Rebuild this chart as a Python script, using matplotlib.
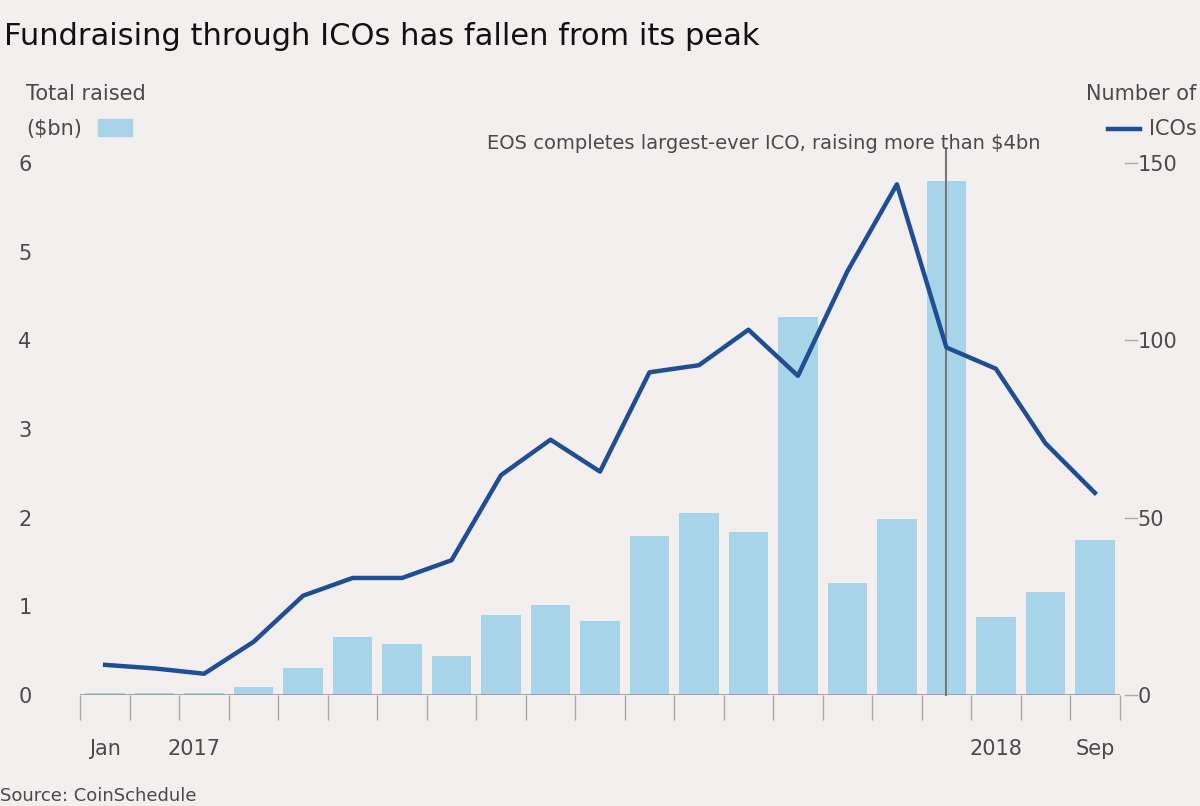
import matplotlib.pyplot as plt
import numpy as np

months = ["Jan", "Feb", "Mar", "Apr", "May", "Jun", "Jul", "Aug", "Sep", "Oct", "Nov", "Dec",
          "Jan", "Feb", "Mar", "Apr", "May", "Jun", "Jul", "Aug", "Sep"]
raised_bn = [0.02, 0.02, 0.02, 0.09, 0.30, 0.65, 0.58, 0.44, 0.90, 1.01, 0.84, 1.79,
             2.05, 1.84, 4.26, 1.26, 1.98, 5.80, 0.88, 1.16, 1.75]
num_icos = [8.5, 7.5, 6, 15, 28, 33, 33, 38, 62, 72, 63, 91,
            93, 103, 90, 119.5, 144, 98, 92, 71, 57]

bg = "#f2efee"
bar_col = "#a7d4e9"
line_col = "#1f4e96"
txt = "#4a4a4a"

fig = plt.figure(figsize=(12, 8.06), dpi=100, facecolor=bg)
ax = fig.add_axes([0.067, 0.1377, 0.866, 0.66])
ax.set_facecolor(bg)
x = np.arange(len(months))
ax.bar(x, raised_bn, width=0.8, color=bar_col, zorder=2)
ax.set_xlim(-0.5, 20.5)
ax.set_ylim(0, 6)
for s in ax.spines.values():
    s.set_visible(False)
ax.axhline(0, color="#999999", lw=1.2, zorder=3)
ax.set_xticks(np.arange(-0.5, 21, 1))
ax.set_xticklabels([])
ax.tick_params(axis="x", length=18, color="#aaaaaa", width=1)
ax.set_yticks(range(7))
ax.set_yticklabels([str(v) for v in range(7)])
ax.tick_params(axis="y", length=0, pad=52, labelsize=15, labelcolor=txt)
for lab in ax.get_yticklabels():
    lab.set_horizontalalignment("left")
    lab.set_x(0)
ax.yaxis.set_tick_params(pad=0)
for lab in ax.get_yticklabels():
    lab.set_horizontalalignment("center")
ax.tick_params(axis="y", pad=40)

ax2 = ax.twinx()
ax2.plot(x, num_icos, color=line_col, lw=3.2, zorder=4)
ax2.set_ylim(0, 150)
for s in ax2.spines.values():
    s.set_visible(False)
ax2.set_yticks([0, 50, 100, 150])
ax2.tick_params(axis="y", length=0, pad=13, labelsize=15, labelcolor=txt)
for v in [0, 50, 100, 150]:
    ax2.plot([20.6, 20.85], [v, v], color="#aaaaaa", lw=1, clip_on=False)

ax.plot([17, 17], [0, 6.15], color="#777777", lw=1.5, zorder=5, clip_on=False)
ax.text(18.9, 6.22, "EOS completes largest-ever ICO, raising more than $4bn",
        ha="right", va="center", fontsize=14, color=txt)

for xp, lab in [(0, "Jan"), (1.8, "2017"), (18.0, "2018"), (20, "Sep")]:
    ax.text(xp, -0.5, lab, ha="center", va="top", fontsize=15, color=txt)

fig.text(0.003, 0.955, "Fundraising through ICOs has fallen from its peak",
         fontsize=22, color="#111111", va="center")
fig.text(0.022, 0.883, "Total raised", fontsize=15, color=txt, va="center")
fig.text(0.022, 0.840, "($bn)", fontsize=15, color=txt, va="center")
fig.add_artist(plt.Rectangle((0.082, 0.831), 0.028, 0.021, color=bar_col, transform=fig.transFigure))
fig.text(0.997, 0.883, "Number of", fontsize=15, color=txt, va="center", ha="right")
fig.text(0.997, 0.840, "ICOs", fontsize=15, color=txt, va="center", ha="right")
fig.add_artist(plt.Line2D([0.923, 0.950], [0.840, 0.840], color=line_col, lw=3.2, transform=fig.transFigure))
fig.text(0.0, 0.012, "Source: CoinSchedule", fontsize=13, color=txt, va="center")

fig.savefig("out.png", dpi=100, facecolor=bg)
